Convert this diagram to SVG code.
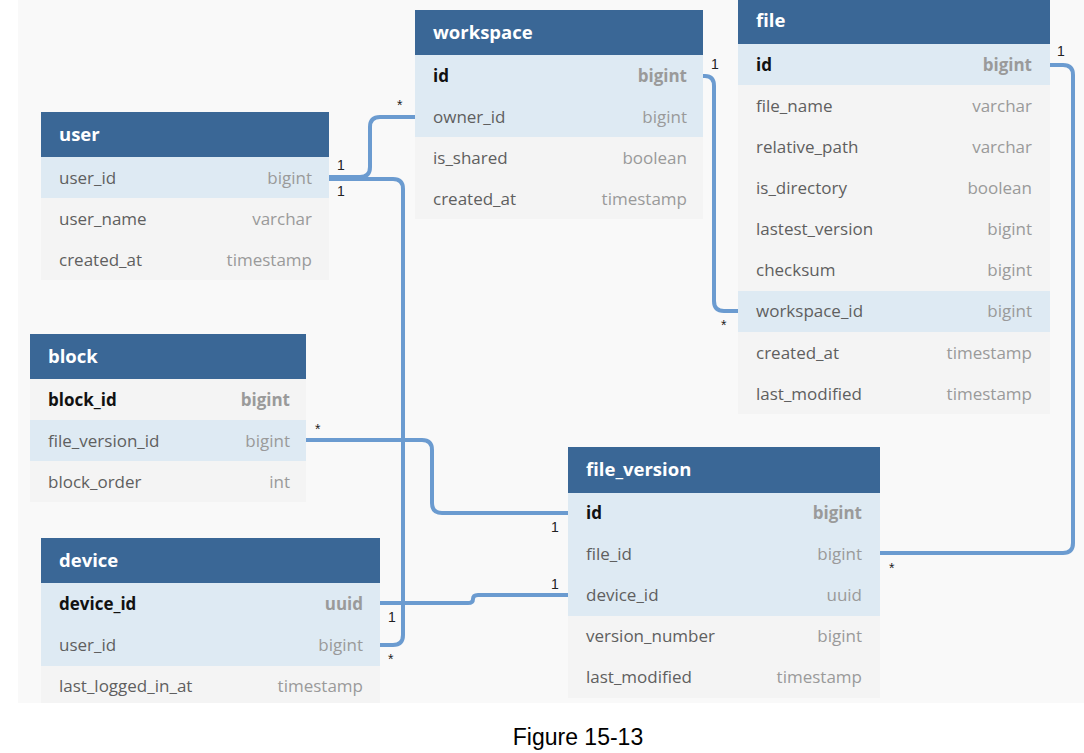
<svg xmlns="http://www.w3.org/2000/svg" width="1084" height="753" viewBox="0 0 1084 753">
<defs>
<style>
.hd{fill:#3a6796}
.pk{fill:#deeaf3}
.rw{fill:#f4f4f4}
.ht{font-family:"Open Sans",sans-serif;font-weight:bold;font-size:18.5px;fill:#ffffff}
.fn{font-family:"Open Sans",sans-serif;font-size:17px;fill:#5f5f5f}
.fb{font-family:"Open Sans",sans-serif;font-size:17px;font-weight:bold;fill:#111111}
.ty{font-family:"Open Sans",sans-serif;font-size:17px;fill:#9a9a9a;text-anchor:end}
.tb{font-family:"Open Sans",sans-serif;font-size:17px;font-weight:bold;fill:#9a9a9a;text-anchor:end}
.ln{fill:none;stroke:#6b9bd0;stroke-width:4}
.lb{font-family:"Liberation Sans",Arial,sans-serif;font-size:14px;fill:#222222}
.cap{font-family:"Liberation Sans",Arial,sans-serif;font-size:23px;fill:#000000;text-anchor:middle}
</style>
<clipPath id="panel"><rect x="18" y="0" width="1066" height="703"/></clipPath>
</defs>
<rect x="0" y="0" width="1084" height="753" fill="#ffffff"/>
<rect x="18" y="0" width="1066" height="703" fill="#f9f9f9"/>
<g clip-path="url(#panel)">
<g id="connectors">
<path class="ln" d="M329,177 H360 Q370,177 370,167 V127 Q370,117 380,117 H415"/>
<path class="ln" d="M329,179 H393 Q403,179 403,189 V635 Q403,645 393,645 H380"/>
<path class="ln" d="M703,76 H705 Q714,76 714,86 V301 Q714,311 724,311 H738"/>
<path class="ln" d="M1050,65 H1063 Q1073,65 1073,75 V543 Q1073,553 1063,553 H880"/>
<path class="ln" d="M306,440 H422 Q432,440 432,450 V503 Q432,513 442,513 H568"/>
<path class="ln" d="M380,603 H468 Q473,603 473,599 Q473,595 478,595 H568"/>
</g>
<g id="labels">
<text class="lb" x="337" y="170">1</text>
<text class="lb" x="337" y="196">1</text>
<text class="lb" x="397" y="110">*</text>
<text class="lb" x="711" y="69">1</text>
<text class="lb" x="721" y="330">*</text>
<text class="lb" x="1057" y="56">1</text>
<text class="lb" x="889" y="573">*</text>
<text class="lb" x="315" y="434">*</text>
<text class="lb" x="551" y="532">1</text>
<text class="lb" x="551" y="589">1</text>
<text class="lb" x="388" y="622">1</text>
<text class="lb" x="388" y="664">*</text>
</g>
<g id="user">
<rect class="hd" x="41" y="112" width="288" height="45"/>
<text class="ht" x="59" y="141">user</text>
<rect class="pk" x="41" y="157" width="288" height="41"/>
<rect class="rw" x="41" y="198" width="288" height="82"/>
<text class="fn" x="59" y="184">user_id</text><text class="ty" x="312" y="184">bigint</text>
<text class="fn" x="59" y="225">user_name</text><text class="ty" x="312" y="225">varchar</text>
<text class="fn" x="59" y="266">created_at</text><text class="ty" x="312" y="266">timestamp</text>
</g>
<g id="workspace">
<rect class="hd" x="415" y="10" width="288" height="45"/>
<text class="ht" x="433" y="39">workspace</text>
<rect class="pk" x="415" y="55" width="288" height="82"/>
<rect class="rw" x="415" y="137" width="288" height="82"/>
<text class="fb" x="433" y="82">id</text><text class="tb" x="687" y="82">bigint</text>
<text class="fn" x="433" y="123">owner_id</text><text class="ty" x="687" y="123">bigint</text>
<text class="fn" x="433" y="164">is_shared</text><text class="ty" x="687" y="164">boolean</text>
<text class="fn" x="433" y="205">created_at</text><text class="ty" x="687" y="205">timestamp</text>
</g>
<g id="file">
<rect class="hd" x="738" y="-2" width="312" height="46"/>
<text class="ht" x="756" y="27">file</text>
<rect class="pk" x="738" y="44" width="312" height="41"/>
<rect class="rw" x="738" y="85" width="312" height="206"/>
<rect class="pk" x="738" y="291" width="312" height="41"/>
<rect class="rw" x="738" y="332" width="312" height="82"/>
<text class="fb" x="756" y="71">id</text><text class="tb" x="1032" y="71">bigint</text>
<text class="fn" x="756" y="112">file_name</text><text class="ty" x="1032" y="112">varchar</text>
<text class="fn" x="756" y="153">relative_path</text><text class="ty" x="1032" y="153">varchar</text>
<text class="fn" x="756" y="194">is_directory</text><text class="ty" x="1032" y="194">boolean</text>
<text class="fn" x="756" y="235">lastest_version</text><text class="ty" x="1032" y="235">bigint</text>
<text class="fn" x="756" y="276">checksum</text><text class="ty" x="1032" y="276">bigint</text>
<text class="fn" x="756" y="317">workspace_id</text><text class="ty" x="1032" y="317">bigint</text>
<text class="fn" x="756" y="359">created_at</text><text class="ty" x="1032" y="359">timestamp</text>
<text class="fn" x="756" y="400">last_modified</text><text class="ty" x="1032" y="400">timestamp</text>
</g>
<g id="block">
<rect class="hd" x="30" y="334" width="276" height="45"/>
<text class="ht" x="48" y="363">block</text>
<rect class="rw" x="30" y="379" width="276" height="41"/>
<rect class="pk" x="30" y="420" width="276" height="41"/>
<rect class="rw" x="30" y="461" width="276" height="41"/>
<text class="fb" x="48" y="406">block_id</text><text class="tb" x="290" y="406">bigint</text>
<text class="fn" x="48" y="447">file_version_id</text><text class="ty" x="290" y="447">bigint</text>
<text class="fn" x="48" y="488">block_order</text><text class="ty" x="290" y="488">int</text>
</g>
<g id="device">
<rect class="hd" x="41" y="538" width="339" height="45"/>
<text class="ht" x="59" y="567">device</text>
<rect class="pk" x="41" y="583" width="339" height="83"/>
<rect class="rw" x="41" y="666" width="339" height="41"/>
<text class="fb" x="59" y="610">device_id</text><text class="tb" x="363" y="610">uuid</text>
<text class="fn" x="59" y="651">user_id</text><text class="ty" x="363" y="651">bigint</text>
<text class="fn" x="59" y="692">last_logged_in_at</text><text class="ty" x="363" y="692">timestamp</text>
</g>
<g id="file_version">
<rect class="hd" x="568" y="447" width="312" height="46"/>
<text class="ht" x="586" y="476">file_version</text>
<rect class="pk" x="568" y="493" width="312" height="123"/>
<rect class="rw" x="568" y="616" width="312" height="82"/>
<text class="fb" x="586" y="519">id</text><text class="tb" x="862" y="519">bigint</text>
<text class="fn" x="586" y="560">file_id</text><text class="ty" x="862" y="560">bigint</text>
<text class="fn" x="586" y="601">device_id</text><text class="ty" x="862" y="601">uuid</text>
<text class="fn" x="586" y="642">version_number</text><text class="ty" x="862" y="642">bigint</text>
<text class="fn" x="586" y="683">last_modified</text><text class="ty" x="862" y="683">timestamp</text>
</g>
</g>
<text class="cap" x="578" y="745">Figure 15-13</text>
</svg>
